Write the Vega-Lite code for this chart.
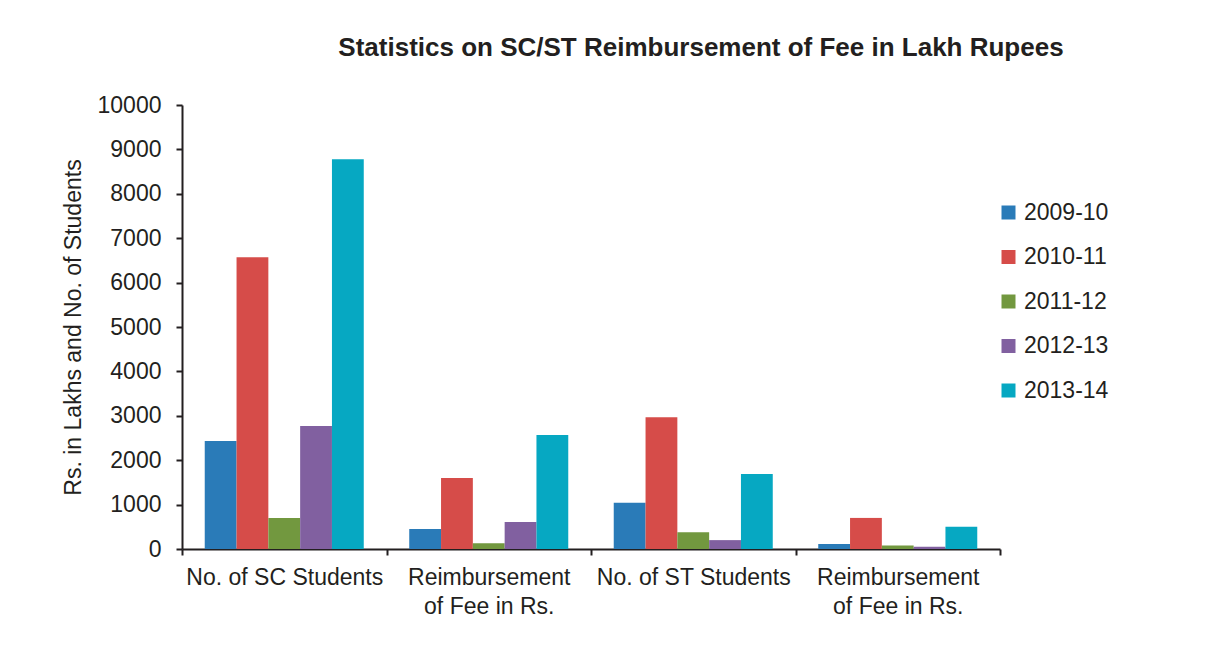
{
  "$schema": "https://vega.github.io/schema/vega-lite/v6.json",
  "autosize": {"type": "none"},
  "width": 818,
  "height": 444,
  "padding": {"left": 182, "top": 105, "right": 207, "bottom": 104},
  "background": "white",
  "title": {
    "text": "Statistics on SC/ST Reimbursement of Fee in Lakh Rupees",
    "font": "Liberation Sans",
    "fontSize": 26,
    "fontWeight": "bold",
    "color": "#231f20",
    "anchor": "middle",
    "dx": 110,
    "offset": 33
  },
  "data": {
    "values": [
      {"cat": "SC Students", "year": "2009-10", "value": 2430},
      {"cat": "SC Students", "year": "2010-11", "value": 6570},
      {"cat": "SC Students", "year": "2011-12", "value": 700},
      {"cat": "SC Students", "year": "2012-13", "value": 2770},
      {"cat": "SC Students", "year": "2013-14", "value": 8780},
      {"cat": "SC Fee", "year": "2009-10", "value": 450},
      {"cat": "SC Fee", "year": "2010-11", "value": 1600},
      {"cat": "SC Fee", "year": "2011-12", "value": 130},
      {"cat": "SC Fee", "year": "2012-13", "value": 610},
      {"cat": "SC Fee", "year": "2013-14", "value": 2570},
      {"cat": "ST Students", "year": "2009-10", "value": 1040},
      {"cat": "ST Students", "year": "2010-11", "value": 2970},
      {"cat": "ST Students", "year": "2011-12", "value": 380},
      {"cat": "ST Students", "year": "2012-13", "value": 200},
      {"cat": "ST Students", "year": "2013-14", "value": 1690},
      {"cat": "ST Fee", "year": "2009-10", "value": 110},
      {"cat": "ST Fee", "year": "2010-11", "value": 700},
      {"cat": "ST Fee", "year": "2011-12", "value": 80},
      {"cat": "ST Fee", "year": "2012-13", "value": 50},
      {"cat": "ST Fee", "year": "2013-14", "value": 500}
    ]
  },
  "mark": {"type": "bar", "strokeWidth": 0},
  "encoding": {
    "x": {
      "field": "cat",
      "type": "nominal",
      "sort": ["SC Students", "SC Fee", "ST Students", "ST Fee"],
      "scale": {"paddingInner": 0, "paddingOuter": 0},
      "axis": {
        "title": null,
        "labelAngle": 0,
        "labelExpr": "datum.value == 'SC Students' ? 'No. of SC Students' : datum.value == 'ST Students' ? 'No. of ST Students' : (datum.value == 'SC Fee' || datum.value == 'ST Fee') ? ['Reimbursement', 'of Fee in Rs.'] : ''",
        "labelFont": "Liberation Sans",
        "labelFontSize": 23,
        "labelColor": "#231f20",
        "labelLineHeight": 29,
        "labelPadding": 11,
        "labelBaseline": "top",
        "labelLimit": 400,
        "labelOverlap": false,
        "tickBand": "extent",
        "tickSize": 6,
        "tickWidth": 2,
        "tickColor": "#231f20",
        "domainColor": "#231f20",
        "domainWidth": 2
      }
    },
    "xOffset": {
      "field": "year",
      "type": "nominal",
      "scale": {"paddingInner": 0, "paddingOuter": 0.715}
    },
    "y": {
      "field": "value",
      "type": "quantitative",
      "scale": {"domain": [0, 10000]},
      "axis": {
        "title": "Rs. in Lakhs and No. of Students",
        "titleFont": "Liberation Sans",
        "titleFontSize": 23,
        "titleFontWeight": "normal",
        "titleColor": "#231f20",
        "titlePadding": 12,
        "values": [0, 1000, 2000, 3000, 4000, 5000, 6000, 7000, 8000, 9000, 10000],
        "format": "d",
        "grid": false,
        "labelFont": "Liberation Sans",
        "labelFontSize": 23,
        "labelColor": "#231f20",
        "labelPadding": 15,
        "tickSize": 6,
        "tickWidth": 2,
        "tickColor": "#231f20",
        "domainColor": "#231f20",
        "domainWidth": 2
      }
    },
    "color": {
      "field": "year",
      "type": "nominal",
      "scale": {
        "domain": ["2009-10", "2010-11", "2011-12", "2012-13", "2013-14"],
        "range": ["#2a7bb8", "#d64c49", "#72983f", "#8160a0", "#06a8c2"]
      },
      "legend": {
        "title": null,
        "orient": "none",
        "legendX": 815,
        "legendY": 96,
        "symbolType": "square",
        "symbolSize": 196,
        "symbolStrokeWidth": 0,
        "labelFont": "Liberation Sans",
        "labelFontSize": 23,
        "labelColor": "#231f20",
        "labelOffset": 4,
        "labelLimit": 200,
        "rowPadding": 20.5
      }
    }
  },
  "config": {
    "view": {"stroke": null}
  }
}
